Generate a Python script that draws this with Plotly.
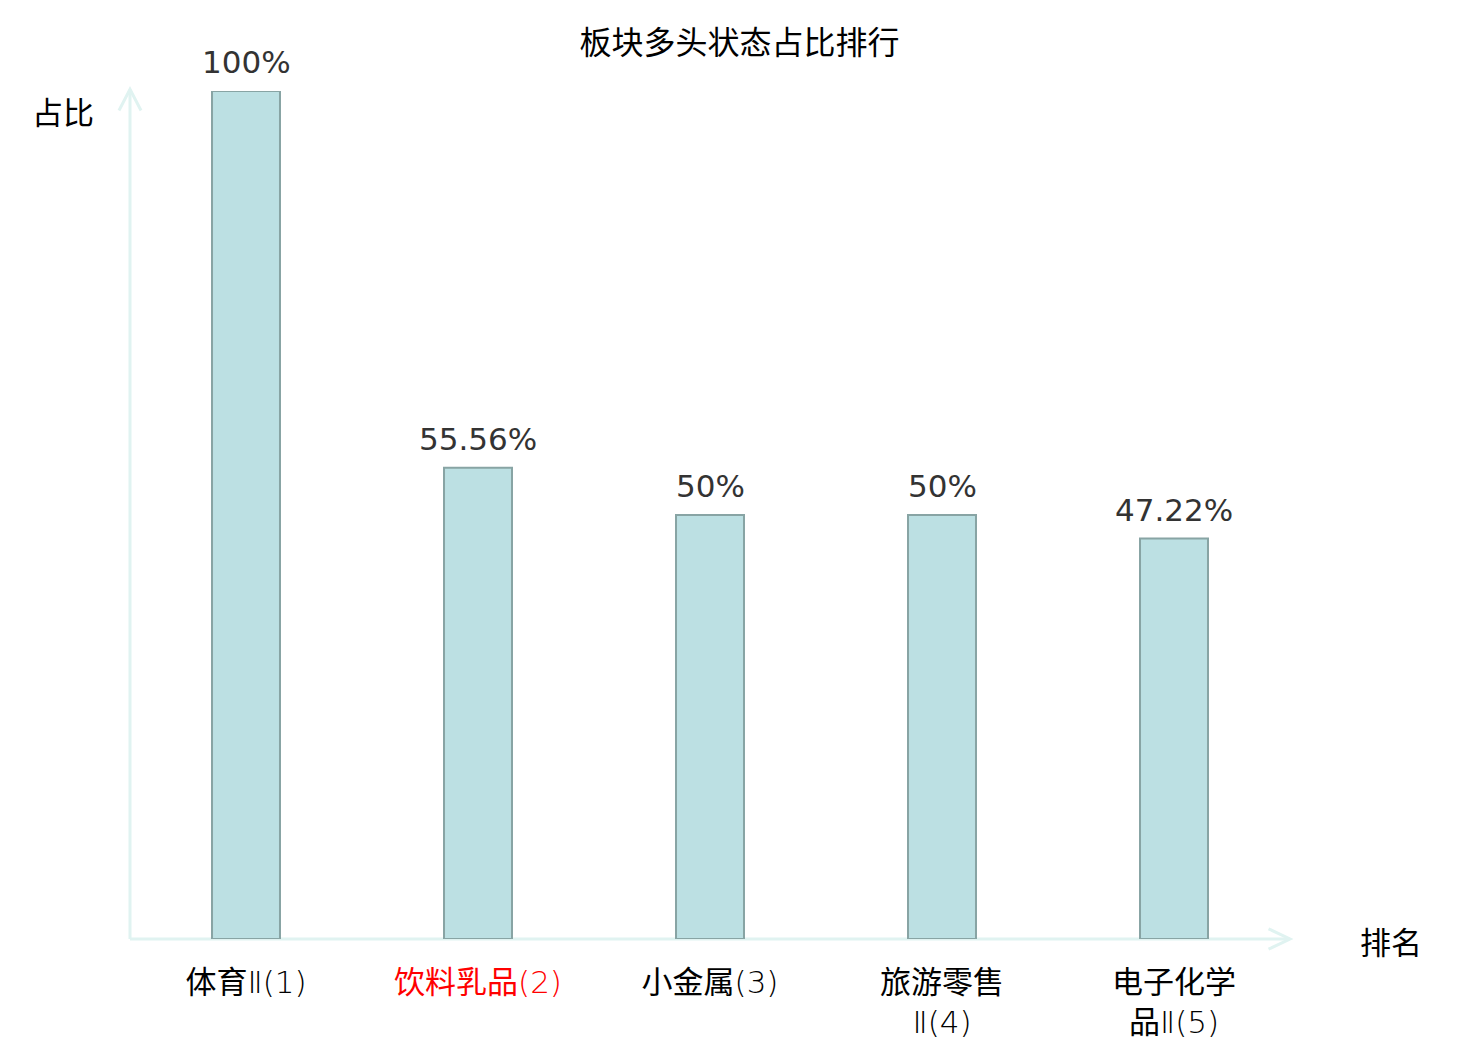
import re
import plotly.graph_objects as go

categories = ['体育Ⅱ(1)', '饮料乳品(2)', '小金属(3)', '旅游零售Ⅱ(4)', '电子化学品Ⅱ(5)']
tick_lines = [['体育Ⅱ(1)'], ['饮料乳品(2)'], ['小金属(3)'], ['旅游零售', 'Ⅱ(4)'], ['电子化学', '品Ⅱ(5)']]
highlight = '饮料乳品(2)'
values = [100, 55.56, 50, 50, 47.22]
value_labels = ['100%', '55.56%', '50%', '50%', '47.22%']

axis_color = '#e0f3f1'


def fmt_tick(lines, color):
    # latin parts drawn thin, CJK parts regular
    out = []
    for line in lines:
        parts = re.split(r'([A-Za-z0-9()Ⅱ]+)', line)
        s = ''
        for p in parts:
            if not p:
                continue
            w = 300 if re.fullmatch(r'[A-Za-z0-9()Ⅱ]+', p) else 400
            s += "<span style='font-weight:%d;color:%s'>%s</span>" % (w, color, p)
        out.append(s)
    return '<br>'.join(out)


tick_text = [fmt_tick(l, 'red' if c == highlight else 'black') for c, l in zip(categories, tick_lines)]

fig = go.Figure()
fig.add_trace(
    go.Bar(
        x=categories,
        y=values,
        width=0.293,
        marker=dict(color='#bce0e3', line=dict(color='#88a4a4', width=2)),
    ))

# value labels above the bars
for c, v, t in zip(categories, values, value_labels):
    fig.add_annotation(x=c, y=v, text=t, showarrow=False, yanchor='middle', yshift=29,
                       font=dict(family='DejaVu Sans, Noto Sans CJK SC', size=31, color='#333333'))

fig.update_layout(
    width=1480, height=1040,
    margin=dict(l=122, r=198, t=83, b=109),
    plot_bgcolor='white', paper_bgcolor='white',
    showlegend=False,
    font=dict(family='Noto Sans CJK SC', color='black'),
    title=dict(text='板块多头状态占比排行', x=0.4943, xanchor='center', y=0.967, yanchor='middle',
               font=dict(size=32, color='black')),
    xaxis=dict(tickmode='array', tickvals=categories, ticktext=tick_text,
               tickfont=dict(family='DejaVu Sans, Noto Sans CJK SC', size=31, color='black'),
               showline=False, ticks='', automargin=False,
               showgrid=False, zeroline=False, ticklabelstandoff=22),
    yaxis=dict(range=[0, 100], showticklabels=False, showgrid=False, zeroline=False,
               showline=False, ticks='', automargin=False),
)

# axis lines with open arrowheads
fig.add_shape(type='line', xref='paper', yref='paper', x0=0, y0=0, x1=1, y1=0,
              line=dict(color=axis_color, width=3), layer='below')
fig.add_shape(type='line', xref='paper', yref='paper', x0=0, y0=0, x1=0, y1=1.002,
              line=dict(color=axis_color, width=3), layer='below')
fig.add_shape(type='path', xref='paper', yref='paper',
              path='M 0.9815 0.012 L 1 0 L 0.9815 -0.012',
              line=dict(color=axis_color, width=3))
fig.add_shape(type='path', xref='paper', yref='paper',
              path='M -0.0095 0.977 L 0 1.002 L 0.0095 0.977',
              line=dict(color=axis_color, width=3))

fig.add_annotation(text='占比', xref='paper', yref='paper', x=-0.058, y=0.977,
                   xanchor='center', yanchor='middle',
                   showarrow=False, font=dict(size=31, color='black'))
fig.add_annotation(text='排名', xref='paper', yref='paper', x=1.087, y=-0.002,
                   xanchor='center', yanchor='middle',
                   showarrow=False, font=dict(size=31, color='black'))

fig.write_html("out.html")
